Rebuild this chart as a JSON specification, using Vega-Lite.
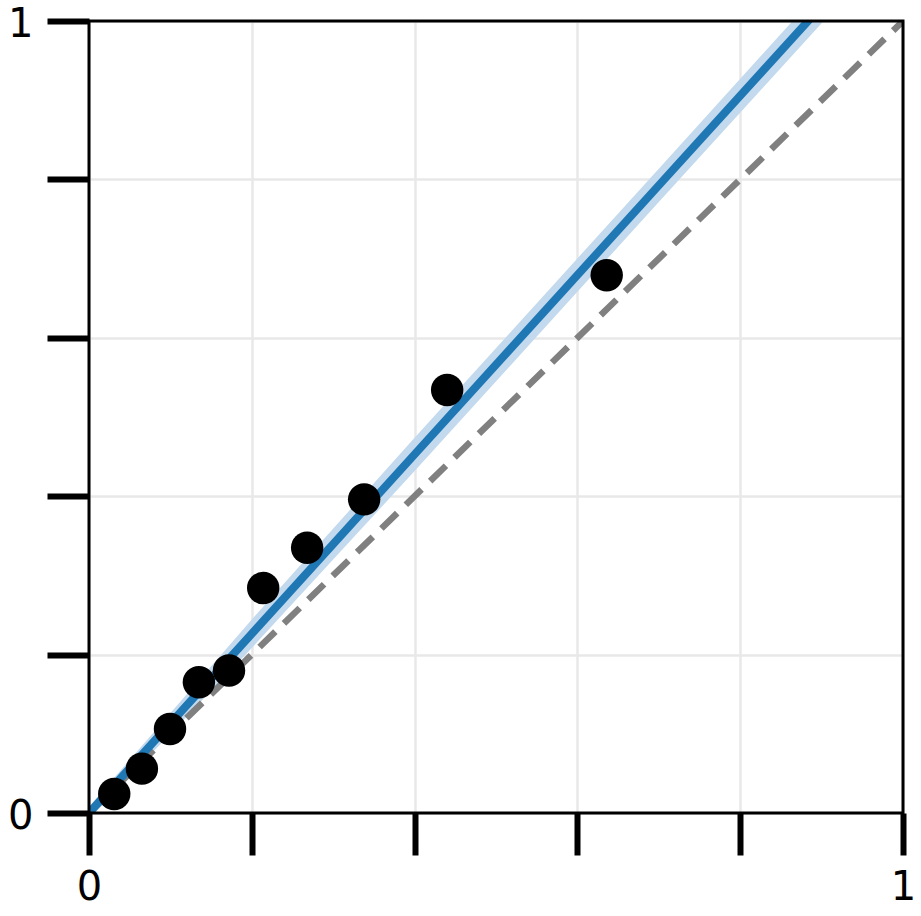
{
  "$schema": "https://vega.github.io/schema/vega-lite/v6.json",
  "width": 814,
  "height": 792,
  "autosize": {"type": "none"},
  "padding": {"left": 89, "top": 21, "right": 18, "bottom": 103},
  "background": "white",
  "config": {
    "view": {"stroke": null},
    "font": "DejaVu Sans"
  },
  "datasets": {
    "pts": [
      {"x": 0.031, "y": 0.024},
      {"x": 0.065, "y": 0.056},
      {"x": 0.0995, "y": 0.106},
      {"x": 0.135, "y": 0.165},
      {"x": 0.172, "y": 0.18},
      {"x": 0.214, "y": 0.284},
      {"x": 0.268, "y": 0.335},
      {"x": 0.338, "y": 0.396},
      {"x": 0.44, "y": 0.534},
      {"x": 0.636, "y": 0.679}
    ],
    "fit": [
      {"x": 0, "y": 0, "lo": -0.008, "hi": 0.008},
      {"x": 0.2, "y": 0.2264, "lo": 0.2084, "hi": 0.2444},
      {"x": 0.4, "y": 0.4528, "lo": 0.4318, "hi": 0.4738},
      {"x": 0.7, "y": 0.7924, "lo": 0.7714, "hi": 0.8134},
      {"x": 1, "y": 1.132, "lo": 1.11, "hi": 1.154}
    ],
    "diag": [
      {"x": 0, "y": 0},
      {"x": 1, "y": 1}
    ],
    "frame": [
      {"x": 0, "x2": 1, "y": 0, "y2": 1}
    ]
  },
  "encoding": {
    "x": {
      "field": "x", "type": "quantitative",
      "scale": {"domain": [0, 1], "nice": false, "zero": false},
      "axis": {
        "title": null, "domain": false,
        "values": [0, 0.2, 0.4, 0.6, 0.8, 1],
        "labelExpr": "datum.value == 0 ? '0' : (datum.value == 1 ? '1' : '')",
        "tickSize": 42, "tickWidth": 6, "tickColor": "black",
        "labelFontSize": 40, "labelColor": "black", "labelPadding": 12,
        "labelFlush": false, "labelOverlap": false,
        "grid": true, "gridColor": "#e8e8e8", "gridWidth": 2.5
      }
    },
    "y": {
      "field": "y", "type": "quantitative",
      "scale": {"domain": [0, 1], "nice": false, "zero": false},
      "axis": {
        "title": null, "domain": false,
        "values": [0, 0.2, 0.4, 0.6, 0.8, 1],
        "labelExpr": "datum.value == 0 ? '0' : (datum.value == 1 ? '1' : '')",
        "tickSize": 42, "tickWidth": 6, "tickColor": "black",
        "labelFontSize": 40, "labelColor": "black", "labelPadding": 14,
        "labelBaseline": "alphabetic", "labelOffset": 15,
        "labelFlush": false, "labelOverlap": false,
        "grid": true, "gridColor": "#e8e8e8", "gridWidth": 2.5
      }
    }
  },
  "layer": [
    {
      "data": {"name": "fit"},
      "mark": {"type": "area", "color": "#c3d9ee", "opacity": 1, "clip": true},
      "encoding": {
        "y": {"field": "lo", "type": "quantitative"},
        "y2": {"field": "hi"}
      }
    },
    {
      "data": {"name": "diag"},
      "mark": {"type": "line", "color": "#808080", "strokeWidth": 6.5, "strokeDash": [22, 12], "clip": true},
      "encoding": {}
    },
    {
      "data": {"name": "fit"},
      "mark": {"type": "line", "color": "#1f77b4", "strokeWidth": 8, "clip": true},
      "encoding": {}
    },
    {
      "data": {"name": "frame"},
      "mark": {"type": "rect", "filled": false, "color": "black", "strokeWidth": 3, "opacity": 1, "clip": false},
      "encoding": {
        "x": {"field": "x", "type": "quantitative"},
        "x2": {"field": "x2"},
        "y": {"field": "y", "type": "quantitative"},
        "y2": {"field": "y2"}
      }
    },
    {
      "data": {"name": "pts"},
      "mark": {"type": "circle", "color": "black", "opacity": 1, "size": 1050, "clip": false},
      "encoding": {}
    }
  ]
}
